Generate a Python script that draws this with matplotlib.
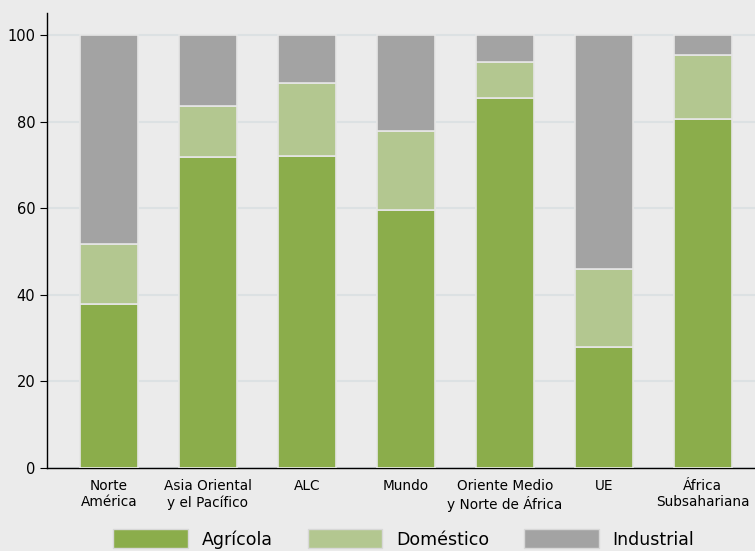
import numpy as np
from matplotlib import pyplot as plt
from matplotlib.patches import Patch

# Water use by sector (%)
regions = ['Norte\nAmérica', 'Asia Oriental\ny el Pacífico', 'ALC', 'Mundo',
           'Oriente Medio\ny Norte de África', 'UE', 'África\nSubsahariana']
agricola = [37.9, 71.8, 72.0, 59.6, 85.5, 28.0, 80.6]
domestico = [13.8, 11.8, 16.9, 18.2, 8.3, 18.0, 14.8]
industrial = [48.3, 16.4, 11.1, 22.2, 6.2, 54.0, 4.6]

series_names = ['Agrícola', 'Doméstico', 'Industrial']
colors = ['#8BAD4B', '#B3C790', '#A3A3A3']
bg = '#EBEBEB'

plt.rcParams['font.family'] = ['DejaVu Sans']

fig = plt.figure(figsize=(7.55, 5.51), dpi=100, facecolor=bg)
ax = fig.add_axes([0.0623, 0.1506, 0.9377, 0.8254])
ax.set_facecolor(bg)

x = np.arange(len(regions))
width = 0.585
bottom = np.zeros(len(regions))
for vals, name, c in zip([agricola, domestico, industrial], series_names, colors):
    ax.bar(x, vals, width, bottom=bottom, color=c, edgecolor='#E6E6E6',
           linewidth=1.2, label=name, zorder=3)
    bottom += np.array(vals)

ax.set_ylim(0, 105)
ax.set_xlim(-0.626, 6.53)
ax.set_yticks([0, 20, 40, 60, 80, 100])
ax.yaxis.grid(True, color='#DCE1E3', linewidth=1.5, zorder=0)
ax.set_xticks(x)
ax.set_xticklabels(regions, fontsize=9.8)
ax.tick_params(axis='x', length=0, pad=8)
ax.tick_params(axis='y', length=5, labelsize=10.5, direction='out')
for s in ['top', 'right']:
    ax.spines[s].set_visible(False)
ax.spines['left'].set_linewidth(1.0)
ax.spines['bottom'].set_linewidth(1.0)

handles = [Patch(facecolor=c, edgecolor='#D8D8D8', label=n)
           for c, n in zip(colors, series_names)]
fig.legend(handles=handles, loc='lower center', ncol=3, frameon=False,
           bbox_to_anchor=(0.535, -0.024), fontsize=12.5, handlelength=4.3,
           handleheight=1.3, handletextpad=0.8, columnspacing=2.0)

plt.savefig('out.png', dpi=100, facecolor=bg)
